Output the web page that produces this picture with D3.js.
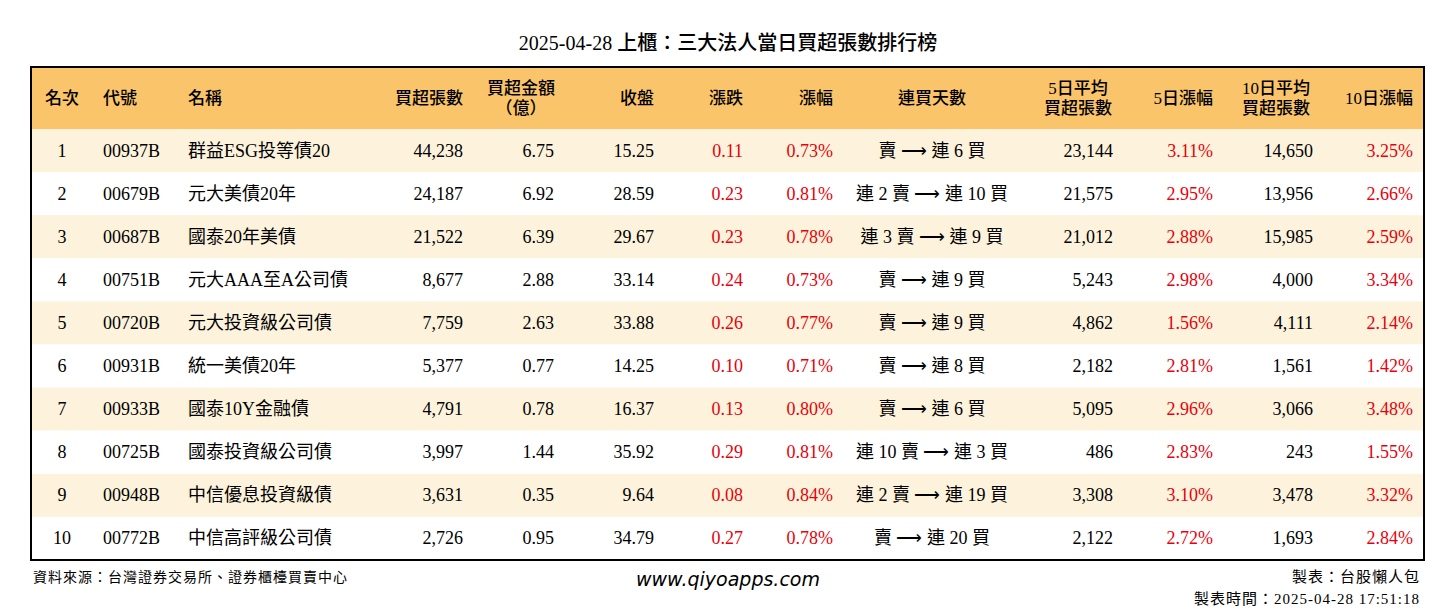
<!DOCTYPE html>
<html><head><meta charset="utf-8">
<script src="https://cdn.jsdelivr.net/npm/d3@7"></script>
<style>body{margin:0;background:#fff}</style>
</head><body><svg width="1456" height="612"></svg>
<script>
const title = "2025-04-28 上櫃：三大法人當日買超張數排行榜";
const headers = [["名次"],["代號"],["名稱"],["買超張數"],["買超金額","（億）"],["收盤"],["漲跌"],["漲幅"],["連買天數"],["5日平均","買超張數"],["5日漲幅"],["10日平均","買超張數"],["10日漲幅"]];
const codes = ["00937B","00679B","00687B","00751B","00720B","00931B","00933B","00725B","00948B","00772B"];
const names = ["群益ESG投等債20","元大美債20年","國泰20年美債","元大AAA至A公司債","元大投資級公司債","統一美債20年","國泰10Y金融債","國泰投資級公司債","中信優息投資級債","中信高評級公司債"];
const netBuy = [44238,24187,21522,8677,7759,5377,4791,3997,3631,2726];
const amount = [6.75,6.92,6.39,2.88,2.63,0.77,0.78,1.44,0.35,0.95];
const closePx = [15.25,28.59,29.67,33.14,33.88,14.25,16.37,35.92,9.64,34.79];
const change = [0.11,0.23,0.23,0.24,0.26,0.10,0.13,0.29,0.08,0.27];
const changePct = [0.73,0.81,0.78,0.73,0.77,0.71,0.80,0.81,0.84,0.78];
const streak = ["賣 ⟶ 連 6 買","連 2 賣 ⟶ 連 10 買","連 3 賣 ⟶ 連 9 買","賣 ⟶ 連 9 買","賣 ⟶ 連 9 買","賣 ⟶ 連 8 買","賣 ⟶ 連 6 買","連 10 賣 ⟶ 連 3 買","連 2 賣 ⟶ 連 19 買","賣 ⟶ 連 20 買"];
const avg5 = [23144,21575,21012,5243,4862,2182,5095,486,3308,2122];
const pct5 = [3.11,2.95,2.88,2.98,1.56,2.81,2.96,2.83,3.10,2.72];
const avg10 = [14650,13956,15985,4000,4111,1561,3066,243,3478,1693];
const pct10 = [3.25,2.66,2.59,3.34,2.14,1.42,3.48,1.55,3.32,2.84];

const font = "'Liberation Serif','Noto Sans CJK TC',serif";
const svg = d3.select("svg").style("font-family", font);
const L = 31, R = 1424, tableTop = 67, headH = 62, bottom = 560;
const y = d3.scaleBand().domain(d3.range(10)).range([tableTop + headH, bottom]);
const fmt = d3.format(",");

// columns: x position and anchor
const cols = [
  {x: 62, a: "middle"}, {x: 103, a: "start"}, {x: 188, a: "start"}, {x: 463, a: "end"},
  {x: 521, a: "middle"}, {x: 654, a: "end"}, {x: 743, a: "end"}, {x: 833, a: "end"},
  {x: 932, a: "middle"}, {x: 1113, a: "end"}, {x: 1213, a: "end"}, {x: 1313, a: "end"}, {x: 1413, a: "end"}
];
const hdrCols = cols.map((c, i) => i === 9 ? {x: 1078, a: "middle"} : i === 11 ? {x: 1276, a: "middle"} : c);

svg.append("text").attr("x", 728).attr("y", 50).attr("text-anchor", "middle")
  .style("font-size", "20px").style("font-weight", "500").text(title);

svg.append("rect").attr("x", L).attr("y", tableTop).attr("width", R - L).attr("height", headH).attr("fill", "#f9c46a");
svg.selectAll("rect.row").data(d3.range(10)).enter().append("rect")
  .attr("x", L).attr("y", d => y(d)).attr("width", R - L).attr("height", y.bandwidth())
  .attr("fill", d => d % 2 === 0 ? "#fdf3dc" : "#fff");
svg.append("rect").attr("x", L).attr("y", tableTop).attr("width", R - L).attr("height", bottom - tableTop)
  .attr("fill", "none").attr("stroke", "#000").attr("stroke-width", 2);

headers.forEach((h, i) => {
  const t = svg.append("text").attr("text-anchor", hdrCols[i].a).style("font-size", "17px").style("font-weight", "500");
  const y0 = tableTop + headH / 2 + 6 - (h.length - 1) * 10;
  h.forEach((s, j) => t.append("tspan").attr("x", hdrCols[i].x).attr("y", y0 + j * 20).text(s));
});

const rows = d3.range(10).map(i => [
  [i + 1, "#000"], [codes[i], "#000"], [names[i], "#000"], [fmt(netBuy[i]), "#000"],
  [amount[i].toFixed(2), "#000"], [closePx[i].toFixed(2), "#000"], [change[i].toFixed(2), "#e8000b"],
  [changePct[i].toFixed(2) + "%", "#e8000b"], [streak[i], "#000"], [fmt(avg5[i]), "#000"],
  [pct5[i].toFixed(2) + "%", "#e8000b"], [fmt(avg10[i]), "#000"], [pct10[i].toFixed(2) + "%", "#e8000b"]
]);
rows.forEach((r, i) => {
  r.forEach((c, j) => {
    svg.append("text").attr("x", j === 4 ? 554 : cols[j].x).attr("y", y(i) + y.bandwidth() / 2 + 6)
      .attr("text-anchor", j === 4 ? "end" : cols[j].a).attr("fill", c[1]).style("font-size", "18px").text(c[0]);
  });
});

svg.append("text").attr("x", 33).attr("y", 582).style("font-size", "14px").style("letter-spacing", "1px").text("資料來源：台灣證券交易所、證券櫃檯買賣中心");
svg.append("text").attr("x", 728).attr("y", 586).attr("text-anchor", "middle").style("font-size", "19px")
  .style("font-style", "italic").style("font-family", "'DejaVu Sans',sans-serif").text("www.qiyoapps.com");
svg.append("text").attr("x", 1420).attr("y", 582).attr("text-anchor", "end").style("font-size", "15px").style("letter-spacing", "1px").text("製表：台股懶人包");
svg.append("text").attr("x", 1420).attr("y", 604).attr("text-anchor", "end").style("font-size", "15px").style("letter-spacing", "1px").text("製表時間：2025-04-28 17:51:18");
</script></body></html>
